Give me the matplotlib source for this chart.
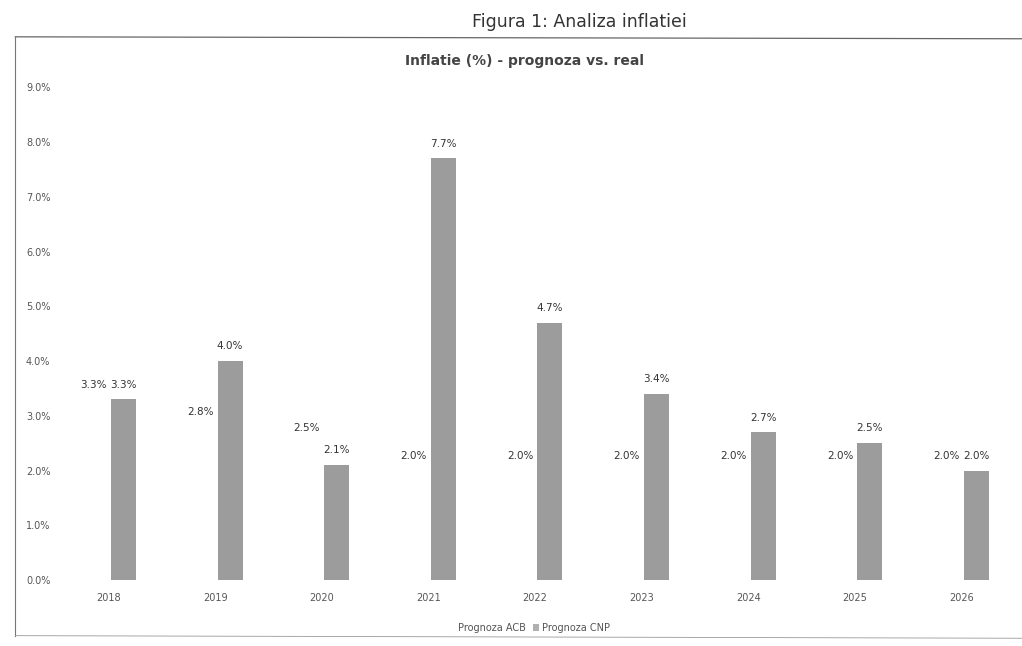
import numpy as np
import matplotlib.pyplot as plt
from matplotlib.patches import Rectangle
from matplotlib.lines import Line2D

# Date
ani = ['2018', '2019', '2020', '2021', '2022', '2023', '2024', '2025', '2026']
prognoza_acb = [3.3, 2.8, 2.5, 2.0, 2.0, 2.0, 2.0, 2.0, 2.0]
prognoza_cnp = [3.3, 4.0, 2.1, 7.7, 4.7, 3.4, 2.7, 2.5, 2.0]

fig = plt.figure(figsize=(10.22, 6.46), dpi=100)
ax = fig.add_axes([0.054, 0.102, 0.939, 0.763])

x = np.arange(len(ani))
w = 0.235
off = 0.14

bars_acb = ax.bar(x - off, prognoza_acb, w, color='white', label='Prognoza ACB')
bars_cnp = ax.bar(x + off, prognoza_cnp, w, color='#9c9c9c', label='Prognoza CNP')

# Etichete cu valori deasupra barelor
for bars in (bars_acb, bars_cnp):
    for b in bars:
        ax.annotate(f'{b.get_height():.1f}%', (b.get_x() + b.get_width() / 2, b.get_height()),
                    xytext=(0, 7), textcoords='offset points', ha='center', va='bottom',
                    fontsize=7.5, color='#333333')

ax.set_xlim(-0.5, len(ani) - 0.5)
ax.set_ylim(0, 9)
ax.set_yticks(np.arange(0, 9.1, 1))
ax.set_yticklabels([f'{v:.1f}%' for v in np.arange(0, 9.1, 1)])
ax.set_xticks(x)
ax.set_xticklabels(ani)
ax.tick_params(axis='both', length=0, labelsize=7, colors='#555555')
ax.tick_params(axis='x', pad=9)
for s in ax.spines.values():
    s.set_visible(False)

# Legenda
handles = [Rectangle((0, 0), 1, 1, facecolor='white'),
           Rectangle((0, 0), 1, 1, facecolor='#b0b0b0')]
fig.legend(handles, ['Prognoza ACB', 'Prognoza CNP'], loc='center', bbox_to_anchor=(0.518, 0.028),
           ncol=2, frameon=False, fontsize=7, labelcolor='#555555',
           handlelength=0.6, handleheight=0.6, handletextpad=0.3, columnspacing=0.8)

# Titluri
fig.text(0.513, 0.905, 'Inflatie (%) - prognoza vs. real', ha='center', va='center',
         fontsize=10, fontweight='bold', color='#444444')
fig.text(0.567, 0.966, 'Figura 1: Analiza inflatiei', ha='center', va='center',
         fontsize=12.5, color='#333333')

# Cadrul graficului
fig.add_artist(Line2D([0.015, 1.0], [0.943, 0.940], color='#666666', lw=0.9))
fig.add_artist(Line2D([0.015, 0.015], [0.943, 0.016], color='#777777', lw=0.8))
fig.add_artist(Line2D([0.015, 1.0], [0.016, 0.012], color='#999999', lw=0.6))

fig.savefig('out.png', dpi=100)
